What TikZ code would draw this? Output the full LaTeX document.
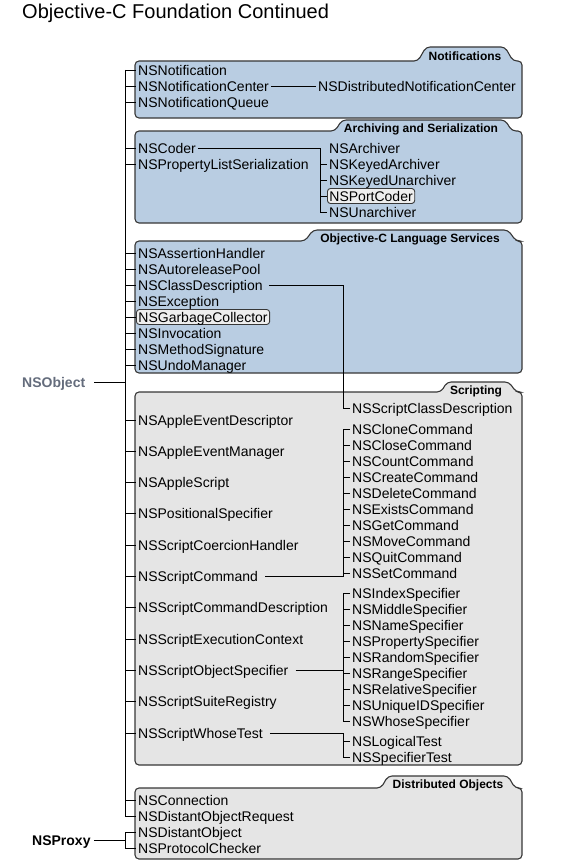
\documentclass[tikz,border=0pt]{standalone}
\usepackage{fontspec}
\setmainfont{Liberation Sans}
\definecolor{bluefill}{RGB}{185,205,226}
\definecolor{grayfill}{RGB}{229,229,229}
\definecolor{hlfill}{RGB}{238,238,238}
\definecolor{boxline}{RGB}{55,55,55}
\definecolor{rootgray}{RGB}{100,108,124}
\begin{document}
\begin{tikzpicture}[x=1pt,y=-1pt,
  cls/.style={anchor=west, inner xsep=2pt, inner ysep=0pt, text height=11pt, text depth=1pt, font=\fontsize{14}{16}\selectfont},
  hl/.style={cls, draw=boxline, fill=hlfill, rounded corners=3pt, line width=0.9pt, text height=12.5pt, text depth=2.5pt},
  root/.style={anchor=west, inner sep=0pt, text height=11pt, text depth=1pt, font=\fontsize{14}{16}\selectfont\bfseries},
  tablabel/.style={inner sep=0pt, font=\fontsize{12}{14}\selectfont\bfseries},
  folder/.style={draw=boxline, line width=1.1pt, rounded corners=4pt},
  link/.style={draw=black, line width=0.9pt},
]
\useasboundingbox (0,0) rectangle (563,867);

% heading
\node[anchor=base west, inner sep=0pt, font=\fontsize{20}{24}\selectfont] (title) at (22,18.5) {Objective-C Foundation Continued};

% folder-shaped group panels
\path[folder, fill=bluefill] (135,118) -- (135,61) -- (418,61) -- (426,47) -- (505,47) -- (513,61) -- (522,61) -- (522,118) -- cycle;
\path[folder, fill=bluefill] (135,223) -- (135,131) -- (335,131) -- (342,120) -- (505,120) -- (512,131) -- (522,131) -- (522,223) -- cycle;
\path[folder, fill=bluefill] (135,373) -- (135,241) -- (305,241) -- (313,230) -- (508,230) -- (516,241) -- (522,241) -- (522,373) -- cycle;
\path[folder, fill=grayfill] (135,765) -- (135,392) -- (441,392) -- (447,382) -- (509,382) -- (516,392) -- (522,392) -- (522,765) -- cycle;
\path[folder, fill=grayfill] (135,859) -- (135,788) -- (381,788) -- (388,776) -- (508,776) -- (515,788) -- (522,788) -- (522,859) -- cycle;

\node[tablabel] (tnotif) at (465,56.5) {Notifications};
\node[tablabel] (tarch) at (421,129.5) {Archiving and Serialization};
\node[tablabel] (tlang) at (410,239.5) {Objective-C Language Services};
\node[tablabel] (tscript) at (476,391.5) {Scripting};
\node[tablabel] (tdist) at (448,785.5) {Distributed Objects};

% root classes
\node[root, text=rootgray] (nsobject) at (22,382) {NSObject};
\node[root] (nsproxy) at (32,840) {NSProxy};

% Notifications
\node[cls] (n1) at (136,70) {NSNotification};
\node[cls] (n2) at (136,86) {NSNotificationCenter};
\node[cls] (n3) at (136,102) {NSNotificationQueue};
\node[cls] (n2s) at (316,86) {NSDistributedNotificationCenter};

% Archiving and Serialization
\node[cls] (a1) at (136,148) {NSCoder};
\node[cls] (a2) at (136,164) {NSPropertyListSerialization};
\node[cls] (a1s1) at (327,148) {NSArchiver};
\node[cls] (a1s2) at (327,164) {NSKeyedArchiver};
\node[cls] (a1s3) at (327,180) {NSKeyedUnarchiver};
\node[hl]  (a1s4) at (327,196) {NSPortCoder};
\node[cls] (a1s5) at (327,212) {NSUnarchiver};

% Objective-C Language Services
\node[cls] (l1) at (136,253) {NSAssertionHandler};
\node[cls] (l2) at (136,269) {NSAutoreleasePool};
\node[cls] (l3) at (136,285) {NSClassDescription};
\node[cls] (l4) at (136,301) {NSException};
\node[hl]  (l5) at (136,317) {NSGarbageCollector};
\node[cls] (l6) at (136,333) {NSInvocation};
\node[cls] (l7) at (136,349) {NSMethodSignature};
\node[cls] (l8) at (136,365) {NSUndoManager};

% Scripting
\node[cls] (s0)  at (136,420.0) {NSAppleEventDescriptor};
\node[cls] (s1)  at (136,451.3) {NSAppleEventManager};
\node[cls] (s2)  at (136,482.6) {NSAppleScript};
\node[cls] (s3)  at (136,513.9) {NSPositionalSpecifier};
\node[cls] (s4)  at (136,545.2) {NSScriptCoercionHandler};
\node[cls] (s5)  at (136,576.5) {NSScriptCommand};
\node[cls] (s6)  at (136,607.8) {NSScriptCommandDescription};
\node[cls] (s7)  at (136,639.1) {NSScriptExecutionContext};
\node[cls] (s8)  at (136,670.4) {NSScriptObjectSpecifier};
\node[cls] (s9)  at (136,701.7) {NSScriptSuiteRegistry};
\node[cls] (s10) at (136,733.0) {NSScriptWhoseTest};

\node[cls] (scd) at (350,408) {NSScriptClassDescription};

\node[cls] (c1)  at (350,429) {NSCloneCommand};
\node[cls] (c2)  at (350,445) {NSCloseCommand};
\node[cls] (c3)  at (350,461) {NSCountCommand};
\node[cls] (c4)  at (350,477) {NSCreateCommand};
\node[cls] (c5)  at (350,493) {NSDeleteCommand};
\node[cls] (c6)  at (350,509) {NSExistsCommand};
\node[cls] (c7)  at (350,525) {NSGetCommand};
\node[cls] (c8)  at (350,541) {NSMoveCommand};
\node[cls] (c9)  at (350,557) {NSQuitCommand};
\node[cls] (c10) at (350,573) {NSSetCommand};

\node[cls] (p1) at (350,593) {NSIndexSpecifier};
\node[cls] (p2) at (350,609) {NSMiddleSpecifier};
\node[cls] (p3) at (350,625) {NSNameSpecifier};
\node[cls] (p4) at (350,641) {NSPropertySpecifier};
\node[cls] (p5) at (350,657) {NSRandomSpecifier};
\node[cls] (p6) at (350,673) {NSRangeSpecifier};
\node[cls] (p7) at (350,689) {NSRelativeSpecifier};
\node[cls] (p8) at (350,705) {NSUniqueIDSpecifier};
\node[cls] (p9) at (350,721) {NSWhoseSpecifier};

\node[cls] (t1) at (350,741) {NSLogicalTest};
\node[cls] (t2) at (350,757) {NSSpecifierTest};

% Distributed Objects
\node[cls] (d1) at (136,800) {NSConnection};
\node[cls] (d2) at (136,816) {NSDistantObjectRequest};
\node[cls] (d3) at (136,832) {NSDistantObject};
\node[cls] (d4) at (136,848) {NSProtocolChecker};

% x positions of the vertical bars
\coordinate (trunk) at (125,0);
\coordinate (abar) at (320,0);
\coordinate (sbar) at (343,0);

% NSObject hierarchy trunk
\draw[link] (trunk |- n1) -- (trunk |- d2);
\draw[link, shorten <=9pt] (nsobject.east) -- (trunk |- nsobject);
\foreach \c in {n1,n2,n3,a1,a2,l1,l2,l3,l4,l5,l6,l7,l8,s0,s1,s2,s3,s4,s5,s6,s7,s8,s9,s10,d1,d2}
  \draw[link] (trunk |- \c) -- (\c.west);

% NSProxy subclasses
\draw[link, shorten <=3pt] (nsproxy.east) -- (trunk |- nsproxy);
\draw[link] (trunk |- d3) -- (trunk |- d4);
\foreach \c in {d3,d4}
  \draw[link] (trunk |- \c) -- (\c.west);

% NSNotificationCenter subclass
\draw[link] (n2.east) -- (n2s.west);

% NSCoder subclasses
\draw[link] (a1.east) -- (abar |- a1) -- (abar |- a1s5);
\foreach \c in {a1s2,a1s3,a1s4,a1s5}
  \draw[link] (abar |- \c) -- (\c.west);

% NSClassDescription subclass
\draw[link, shorten <=4pt] (l3.east) -- (sbar |- l3) -- (sbar |- scd) -- (scd.west);

% NSScriptCommand subclasses
\draw[link, shorten <=5pt] (s5.east) -- (sbar |- s5);
\draw[link] (sbar |- s5) -- (sbar |- c1);
\foreach \c in {c1,c2,c3,c4,c5,c6,c7,c8,c9,c10}
  \draw[link] (sbar |- \c) -- (\c.west);

% NSScriptObjectSpecifier subclasses
\draw[link, shorten <=5pt] (s8.east) -- (sbar |- s8);
\draw[link] (sbar |- p1) -- (sbar |- p9);
\foreach \c in {p1,p2,p3,p4,p5,p6,p7,p8,p9}
  \draw[link] (sbar |- \c) -- (\c.west);

% NSScriptWhoseTest subclasses
\draw[link, shorten <=5pt] (s10.east) -- (sbar |- s10);
\draw[link] (sbar |- s10) -- (sbar |- t2);
\foreach \c in {t1,t2}
  \draw[link] (sbar |- \c) -- (\c.west);
\end{tikzpicture}
\end{document}
